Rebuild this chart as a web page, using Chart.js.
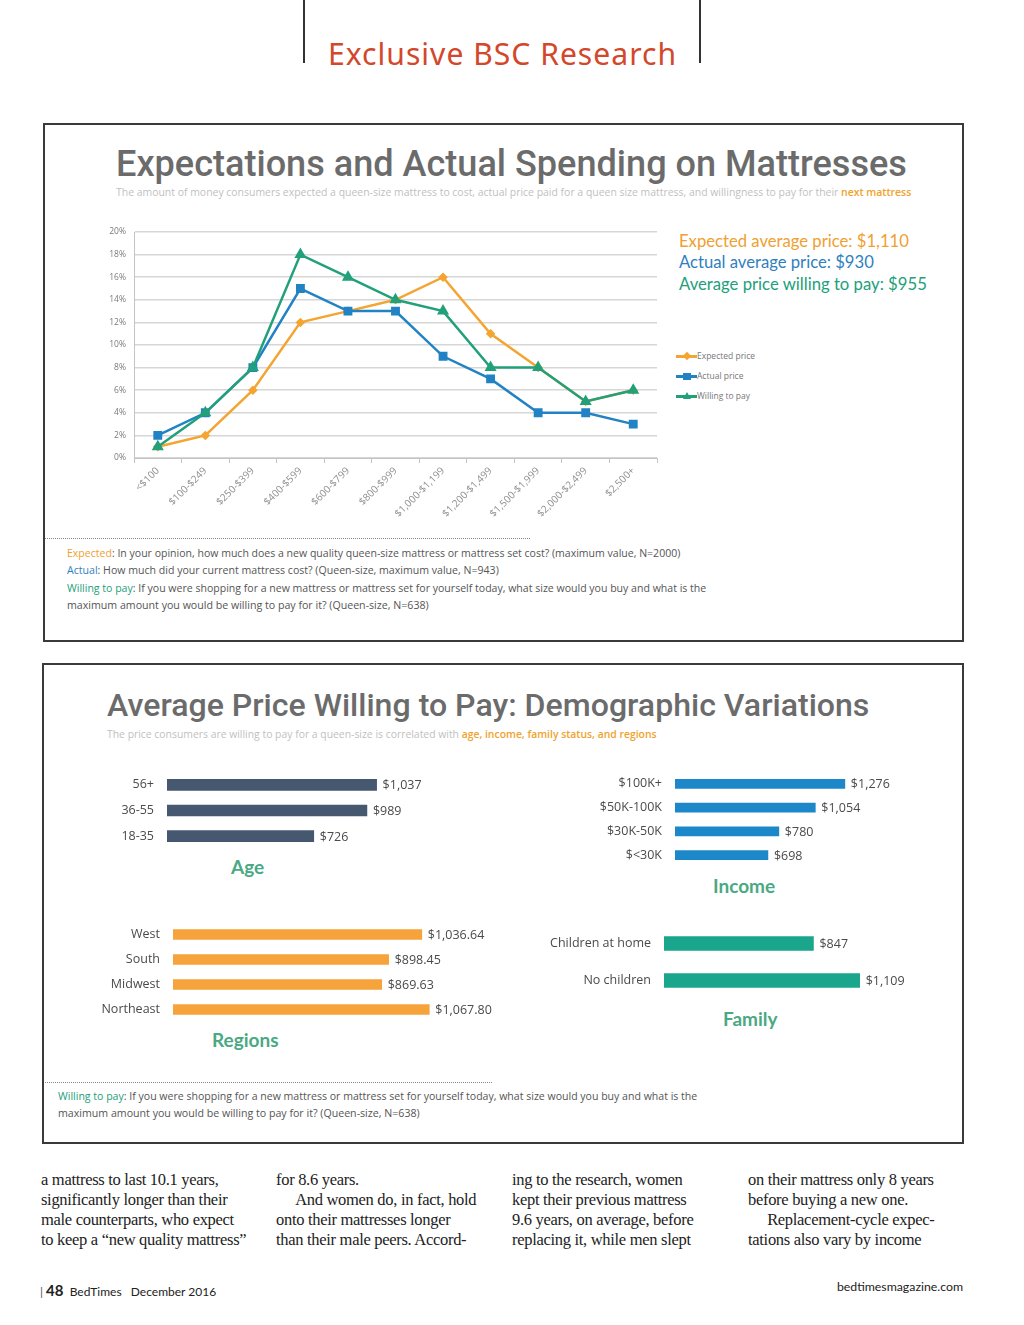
<!DOCTYPE html>
<html>
<head>
<meta charset="utf-8">
<script src="https://cdn.jsdelivr.net/npm/chart.js@4/dist/chart.umd.min.js"></script>
<style>
  body { margin: 0; background: #fff; }
  #page { position: relative; width: 1024px; height: 1325px; overflow: hidden; font-family: "Open Sans", sans-serif; }
  .abs { position: absolute; white-space: nowrap; }
  .box { position: absolute; border: 2px solid #3a3a3a; box-sizing: border-box; }
  .vline { position: absolute; width: 1.5px; background: #333; }
  .title { font-family: Roboto, sans-serif; font-weight: 500; color: #6b6b6b; line-height: 1; }
  .sub { font-size: 10px; color: #bfbfbf; }
  .sub b { color: #f0a22e; font-weight: 600; }
  .note { font-size: 10px; color: #555; line-height: 17.4px; }
  .dots { position: absolute; border-top: 1px dotted #8a8a8a; height: 0; }
  .big { font-family: Lato, sans-serif; font-size: 16px; line-height: 22px; }
  .leg { font-size: 8.5px; color: #777; height: 20px; line-height: 20px; position: relative; padding-left: 21px; }
  .leg i { position: absolute; left: 0; top: 9px; width: 21px; height: 2.5px; }
  .cat { font-family: Lato, sans-serif; font-weight: 700; font-size: 19px; color: #4aa983; }
  .body { font-family: "Liberation Serif", serif; font-size: 16.5px; line-height: 20px; color: #222; letter-spacing: -0.3px; }
  .wrap { position: absolute; }
</style>
</head>
<body>
<div id="page">
  <div class="vline" style="left:303px;top:0;height:63px"></div>
  <div class="vline" style="left:699px;top:0;height:63px"></div>
  <div class="abs fit" data-w="350" style="left:328px;top:39px;font-family:'Noto Sans',sans-serif;font-size:29px;line-height:1;color:#d3472b;letter-spacing:1px">Exclusive BSC Research</div>

  <!-- box 1 : line chart -->
  <div class="box" style="left:43px;top:123px;width:921px;height:519px"></div>
  <div class="abs title fit" data-w="791" style="left:116px;top:146px;font-size:35px">Expectations and Actual Spending on Mattresses</div>
  <div class="abs sub fit" data-w="796" style="left:116px;top:185px">The amount of money consumers expected a queen-size mattress to cost, actual price paid for a queen size mattress, and willingness to pay for their <b>next mattress</b></div>

  <div class="abs big fit" data-w="230" style="left:679px;top:230px;color:#f0a030">Expected average price: $1,110</div>
  <div class="abs big fit" data-w="195" style="left:679px;top:251px;color:#2f7fc0">Actual average price: $930</div>
  <div class="abs big fit" data-w="248" style="left:679px;top:273px;color:#22a07a">Average price willing to pay: $955</div>

  <div class="wrap" style="left:90px;top:222px;width:575px;height:306px"><canvas id="lineChart"></canvas></div>

  <div class="abs" id="legend" style="left:676px;top:346px"></div>

  <div class="dots" style="left:45px;top:538px;width:485px"></div>
  <div class="abs note" style="left:67px;top:545px">
    <div class="fit" data-w="614"><span style="color:#f0a030">Expected</span>: In your opinion, how much does a new quality queen-size mattress or mattress set cost? (maximum value, N=2000)</div>
    <div class="fit" data-w="432"><span style="color:#2f7fc0">Actual</span>: How much did your current mattress cost? (Queen-size, maximum value, N=943)</div>
    <div class="fit" data-w="640"><span style="color:#22a07a">Willing to pay</span>: If you were shopping for a new mattress or mattress set for yourself today, what size would you buy and what is the</div>
    <div class="fit" data-w="362">maximum amount you would be willing to pay for it? (Queen-size, N=638)</div>
  </div>

  <!-- box 2 : demographic bars -->
  <div class="box" style="left:42px;top:663px;width:922px;height:481px"></div>
  <div class="abs title fit" data-w="763" style="left:107px;top:689px;font-size:33px">Average Price Willing to Pay: Demographic Variations</div>
  <div class="abs sub fit" data-w="550" style="left:107px;top:727px">The price consumers are willing to pay for a queen-size is correlated with <b>age, income, family status, and regions</b></div>

  <div class="wrap" style="left:100px;top:772px;width:410px;height:77px"><canvas id="ageChart"></canvas></div>
  <div class="wrap" style="left:580px;top:772px;width:368px;height:95px"><canvas id="incomeChart"></canvas></div>
  <div class="wrap" style="left:90px;top:922px;width:431px;height:100px"><canvas id="regionChart"></canvas></div>
  <div class="wrap" style="left:534px;top:925px;width:437px;height:74px"><canvas id="familyChart"></canvas></div>

  <div class="abs cat" style="left:231px;top:855px">Age</div>
  <div class="abs cat" style="left:713px;top:874px">Income</div>
  <div class="abs cat" style="left:212px;top:1028px">Regions</div>
  <div class="abs cat" style="left:723px;top:1007px">Family</div>

  <div class="dots" style="left:45px;top:1082px;width:447px"></div>
  <div class="abs note" style="left:58px;top:1088px">
    <div class="fit" data-w="640"><span style="color:#22a07a">Willing to pay</span>: If you were shopping for a new mattress or mattress set for yourself today, what size would you buy and what is the</div>
    <div class="fit" data-w="362">maximum amount you would be willing to pay for it? (Queen-size, N=638)</div>
  </div>

  <!-- article text -->
  <div class="abs body" style="left:41px;top:1170px">a mattress to last 10.1 years,<br>significantly longer than their<br>male counterparts, who expect<br>to keep a “new quality mattress”</div>
  <div class="abs body" style="left:276px;top:1170px">for 8.6 years.<br>&nbsp;&nbsp;&nbsp;&nbsp;&nbsp;And women do, in fact, hold<br>onto their mattresses longer<br>than their male peers. Accord-</div>
  <div class="abs body" style="left:512px;top:1170px">ing to the research, women<br>kept their previous mattress<br>9.6 years, on average, before<br>replacing it, while men slept</div>
  <div class="abs body" style="left:748px;top:1170px">on their mattress only 8 years<br>before buying a new one.<br>&nbsp;&nbsp;&nbsp;&nbsp;&nbsp;Replacement-cycle expec-<br>tations also vary by income</div>

  <div class="abs" style="left:40px;top:1282px;font-family:Lato,sans-serif;font-size:12px;color:#222;line-height:16px">
    <span style="color:#555">|</span> <b style="font-size:15px">48</b>&nbsp; BedTimes&nbsp;&nbsp; December 2016
  </div>
  <div class="abs" style="right:61px;top:1279px;font-family:Lato,sans-serif;font-size:12.3px;color:#222;line-height:16px">bedtimesmagazine.com</div>
</div>

<script>
// 가격대 분포 (line chart)
const priceBands = ["<$100", "$100-$249", "$250-$399", "$400-$599", "$600-$799", "$800-$999",
  "$1,000-$1,199", "$1,200-$1,499", "$1,500-$1,999", "$2,000-$2,499", "$2,500+"];
const expectedPct = [1, 2, 6, 12, 13, 14, 16, 11, 8, 5, 6];
const actualPct = [2, 4, 8, 15, 13, 13, 9, 7, 4, 4, 3];
const willingPct = [1, 4, 8, 18, 16, 14, 13, 8, 8, 5, 6];

// demographic bars
const ageGroups = ["56+", "36-55", "18-35"];
const agePrice = [1037, 989, 726];
const incomeGroups = ["$100K+", "$50K-100K", "$30K-50K", "$<30K"];
const incomePrice = [1276, 1054, 780, 698];
const regionGroups = ["West", "South", "Midwest", "Northeast"];
const regionPrice = [1036.64, 898.45, 869.63, 1067.8];
const familyGroups = ["Children at home", "No children"];
const familyPrice = [847, 1109];

const ORANGE = "#f4a531";
const BLUE = "#2182c4";
const GREEN = "#22a07a";

// shrink/grow single-line texts to the width they have in the print
document.querySelectorAll(".fit").forEach((el) => {
  el.style.display = "inline-block";
  const target = +el.dataset.w;
  const fs = parseFloat(getComputedStyle(el).fontSize);
  const w = el.getBoundingClientRect().width;
  el.style.fontSize = (fs * target / w).toFixed(2) + "px";
  if (el.parentElement.classList.contains("note")) el.style.display = "block";
});

Chart.defaults.font.family = "'Open Sans', sans-serif";
Chart.defaults.animation = false;

// legend like the excel one (line with marker)
const legendItems = [
  { text: "Expected price", color: ORANGE, mark: "width:6px;height:6px;transform:rotate(45deg);top:7px;left:8px" },
  { text: "Actual price", color: BLUE, mark: "width:8px;height:7px;top:6.5px;left:7px" },
  { text: "Willing to pay", color: GREEN, mark: "width:0;height:0;border-left:4px solid transparent;border-right:4px solid transparent;border-bottom:7px solid " + GREEN + ";background:none!important;top:6px;left:6.5px" },
];
document.getElementById("legend").innerHTML = legendItems
  .map((it) => `<div class="leg"><i style="background:${it.color}"></i><em style="position:absolute;background:${it.color};${it.mark}"></em>${it.text}</div>`)
  .join("");

new Chart(document.getElementById("lineChart"), {
  type: "line",
  data: {
    labels: priceBands,
    datasets: [
      { label: "Expected price", data: expectedPct, borderColor: ORANGE, backgroundColor: ORANGE,
        pointStyle: "rectRot", pointRadius: 3, borderWidth: 2.5, order: 2 },
      { label: "Actual price", data: actualPct, borderColor: BLUE, backgroundColor: BLUE,
        pointStyle: "rect", pointRadius: 4.5, borderWidth: 2.5, order: 1 },
      { label: "Willing to pay", data: willingPct, borderColor: GREEN, backgroundColor: GREEN,
        pointStyle: "triangle", pointRadius: 4.5, borderWidth: 2.5, order: 0 },
    ],
  },
  options: {
    responsive: true,
    maintainAspectRatio: false,
    layout: { padding: { top: 10, right: 8, left: 0, bottom: 0 } },
    plugins: { legend: { display: false }, tooltip: { enabled: false } },
    scales: {
      x: {
        offset: true,
        grid: { offset: true, drawOnChartArea: false, tickLength: 5, color: "#c4c4c4" },
        border: { color: "#c4c4c4" },
        ticks: { minRotation: 45, maxRotation: 45, padding: 2, color: "#8f8f8f", font: { size: 10 } },
        afterFit: (s) => { s.height = 70; s.paddingLeft = 0; s.paddingRight = 0; },
      },
      y: {
        min: 0,
        max: 20,
        ticks: { stepSize: 2, padding: 8, color: "#7a7a7a", font: { size: 8.5 }, callback: (v) => v + "%" },
        grid: { color: "#d6d6d6", lineWidth: 1.5, drawTicks: false },
        border: { color: "#c4c4c4" },
        afterFit: (s) => { s.width = 44; s.paddingTop = 0; s.paddingBottom = 0; },
      },
    },
  },
});

// 막대 끝 값 표시
const valueLabels = {
  id: "valueLabels",
  afterDatasetsDraw(chart, args, opts) {
    const ctx = chart.ctx;
    const meta = chart.getDatasetMeta(0);
    const vals = chart.data.datasets[0].data;
    ctx.save();
    ctx.font = "12.5px 'Open Sans', sans-serif";
    ctx.fillStyle = "#4a4a4a";
    ctx.textBaseline = "middle";
    meta.data.forEach((bar, i) => ctx.fillText(opts.fmt(vals[i]), bar.x + opts.gap, bar.y + 1));
    ctx.restore();
  },
};

const dollars = (v) => "$" + v.toLocaleString("en-US");
const cents = (v) => "$" + v.toLocaleString("en-US", { minimumFractionDigits: 2, maximumFractionDigits: 2 });

function drawBars(id, labels, values, color, max, axisW, thickness, fmt) {
  new Chart(document.getElementById(id), {
    type: "bar",
    data: { labels: labels, datasets: [{ data: values, backgroundColor: color, barThickness: thickness }] },
    plugins: [valueLabels],
    options: {
      indexAxis: "y",
      responsive: true,
      maintainAspectRatio: false,
      layout: { padding: { top: 0, bottom: 0, left: 0, right: 60 } },
      plugins: { legend: { display: false }, tooltip: { enabled: false }, valueLabels: { fmt: fmt, gap: 6 } },
      scales: {
        x: { display: false, min: 0, max: max },
        y: {
          grid: { display: false, drawTicks: false },
          border: { display: false },
          ticks: { padding: 13, color: "#4a4a4a", font: { size: 12.5 } },
          afterFit: (s) => { s.width = axisW; s.paddingTop = 0; s.paddingBottom = 0; },
        },
      },
    },
  });
}

drawBars("ageChart", ageGroups, agePrice, "#465770", 1400, 67, 11, dollars);
drawBars("incomeChart", incomeGroups, incomePrice, "#1c87c9", 1600, 95, 9, dollars);
drawBars("regionChart", regionGroups, regionPrice, "#f5a33a", 1200, 83, 10, cents);
drawBars("familyChart", familyGroups, familyPrice, "#19a68c", 1400, 130, 14, dollars);
</script>
</body>
</html>
